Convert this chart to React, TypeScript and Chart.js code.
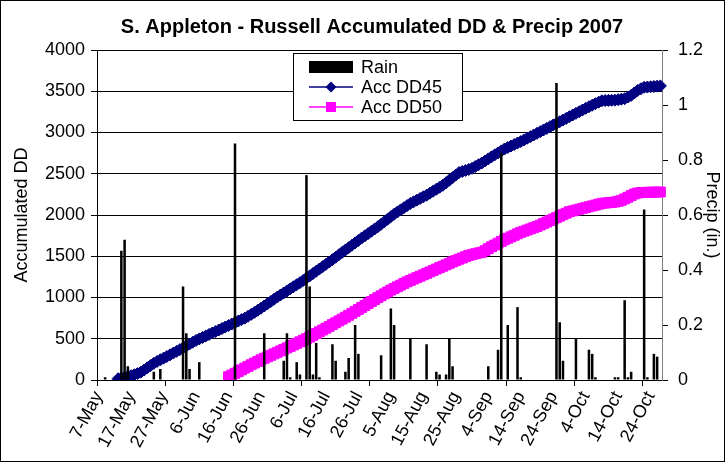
import { useEffect, useRef } from 'react';
import { Chart, registerables } from 'chart.js';

Chart.register(...registerables);

// ---------- data ----------
const START_YEAR = 2007;
const START_MONTH = 4; // May (0-based)
const START_DAY = 7;
const DAY_COUNT = 174; // 7-May .. 28-Oct
const MONTH_NAMES = ['Jan', 'Feb', 'Mar', 'Apr', 'May', 'Jun', 'Jul', 'Aug', 'Sep', 'Oct', 'Nov', 'Dec'];

const TICK_LABELS = ['7-May', '17-May', '27-May', '6-Jun', '16-Jun', '26-Jun', '6-Jul', '16-Jul', '26-Jul',
  '5-Aug', '15-Aug', '25-Aug', '4-Sep', '14-Sep', '24-Sep', '4-Oct', '14-Oct', '24-Oct'];
const LABEL_EVERY = 10;
const MAJOR_TICK_EVERY = 21;

// Accumulated DD45, first value on day index 6 (13-May)
const DD45_FIRST_INDEX = 6;
const ACC_DD45 = [
  15, 24, 33, 42, 53, 64, 78, 95, 120, 148,
  175, 202, 225, 245, 265, 285, 305, 326, 347, 368,
  390, 413, 436, 458, 480, 498, 516, 534, 552, 570,
  588, 606, 624, 642, 660, 678, 696, 714, 732, 750,
  772, 796, 820, 845, 870, 897, 924, 951, 978, 1005,
  1030, 1055, 1080, 1105, 1130, 1155, 1180, 1207, 1235, 1262,
  1290, 1318, 1346, 1374, 1402, 1430, 1459, 1488, 1518, 1547,
  1576, 1604, 1633, 1662, 1691, 1720, 1747, 1775, 1803, 1830,
  1858, 1888, 1918, 1949, 1980, 2010, 2036, 2062, 2088, 2114,
  2140, 2160, 2180, 2200, 2220, 2240, 2264, 2288, 2312, 2336,
  2360, 2391, 2422, 2453, 2484, 2515, 2528, 2540, 2552, 2566,
  2588, 2609, 2630, 2655, 2680, 2705, 2729, 2753, 2777, 2800,
  2818, 2836, 2854, 2872, 2890, 2910, 2930, 2950, 2970, 2990,
  3010, 3030, 3050, 3070, 3091, 3111, 3131, 3151, 3171, 3192,
  3212, 3232, 3252, 3272, 3293, 3312, 3331, 3350, 3368, 3385,
  3387, 3389, 3390, 3392, 3398, 3404, 3410, 3430, 3450, 3480,
  3510, 3530, 3548, 3551, 3554, 3558, 3562, 3565,
];

// Accumulated DD50, first value on day index 40 (16-Jun)
const DD50_FIRST_INDEX = 40;
const ACC_DD50 = [
  40, 60, 81, 102, 123, 145, 165, 185, 205, 225,
  245, 263, 281, 299, 317, 335, 353, 371, 389, 407,
  425, 444, 463, 482, 501, 520, 541, 563, 585, 606,
  628, 650, 672, 694, 716, 738, 761, 784, 808, 832,
  855, 879, 903, 927, 951, 975, 998, 1021, 1044, 1067,
  1090, 1110, 1130, 1150, 1170, 1190, 1207, 1224, 1241, 1258,
  1275, 1292, 1310, 1327, 1345, 1362, 1379, 1396, 1414, 1431,
  1448, 1464, 1479, 1495, 1510, 1520, 1530, 1540, 1548, 1568,
  1592, 1615, 1636, 1658, 1679, 1700, 1718, 1736, 1754, 1772,
  1790, 1804, 1818, 1832, 1846, 1860, 1878, 1896, 1914, 1932,
  1950, 1968, 1986, 2004, 2022, 2040, 2050, 2060, 2070, 2080,
  2090, 2100, 2110, 2120, 2131, 2141, 2145, 2149, 2153, 2157,
  2166, 2178, 2195, 2215, 2236, 2255, 2266, 2272, 2274, 2275,
  2276, 2277, 2278, 2279,
];

// Daily rain (in.), day index -> amount
const RAIN_DAY_INDEX = [2, 7, 8, 9, 17, 19, 26, 27, 28, 31, 42, 51, 57, 58, 59, 61, 62, 64, 65, 66, 67, 68,
  72, 73, 76, 77, 79, 80, 87, 90, 91, 96, 101, 104, 105, 107, 108, 109, 120, 123, 124, 126, 129, 130,
  141, 142, 143, 147, 151, 152, 153, 159, 160, 162, 163, 164, 168, 169, 171, 172];
const RAIN_INCHES = [0.01, 0.47, 0.51, 0.05, 0.03, 0.04, 0.34, 0.17, 0.04, 0.065, 0.86, 0.17, 0.07, 0.17, 0.01, 0.065, 0.02, 0.745, 0.34, 0.02, 0.135, 0.01,
  0.13, 0.07, 0.03, 0.08, 0.2, 0.095, 0.09, 0.26, 0.2, 0.15, 0.13, 0.03, 0.02, 0.02, 0.15, 0.05, 0.05, 0.11, 0.825, 0.2, 0.265, 0.01,
  1.08, 0.21, 0.07, 0.15, 0.11, 0.095, 0.01, 0.01, 0.01, 0.29, 0.01, 0.03, 0.62, 0.01, 0.095, 0.085];

const TITLE = 'S. Appleton - Russell Accumulated DD & Precip 2007';
const LEFT_TITLE = 'Accumulated DD';
const RIGHT_TITLE = 'Precip (in.)';
const SERIES_NAMES = ['Rain', 'Acc DD45', 'Acc DD50'];

const FONT_FAMILY = "'Liberation Sans', Arial, Helvetica, sans-serif";
const NAVY = '#000080';
const MAGENTA = '#FF00FF';

// ---------- derived tables ----------
const categories = Array.from({ length: DAY_COUNT }, (_, i) => {
  const d = new Date(START_YEAR, START_MONTH, START_DAY + i);
  return `${d.getDate()}-${MONTH_NAMES[d.getMonth()]}`;
});
const dd45Data = categories.map((_, i) => {
  const k = i - DD45_FIRST_INDEX;
  return k >= 0 && k < ACC_DD45.length ? ACC_DD45[k] : null;
});
const dd50Data = categories.map((_, i) => {
  const k = i - DD50_FIRST_INDEX;
  return k >= 0 && k < ACC_DD50.length ? ACC_DD50[k] : null;
});
const rainData: (number | null)[] = categories.map(() => null);
RAIN_DAY_INDEX.forEach((d, k) => { rainData[d] = RAIN_INCHES[k]; });

const decorPlugin = {
  id: 'decor',
  beforeDraw(chart: any) {
    const ctx = chart.ctx;
    ctx.save();
    ctx.fillStyle = '#fff';
    ctx.fillRect(0, 0, chart.width, chart.height);
    ctx.restore();
  },
  afterDraw(chart: any) {
    const ctx = chart.ctx;
    ctx.save();
    // title
    ctx.fillStyle = '#000';
    ctx.font = `bold 20px ${FONT_FAMILY}`;
    ctx.textAlign = 'center';
    ctx.textBaseline = 'alphabetic';
    ctx.fillText(TITLE, 372, 33);

    // legend box
    const bx = 293.5, by = 53.5, bw = 169, bh = 67;
    ctx.fillStyle = '#fff';
    ctx.fillRect(bx, by, bw, bh);
    ctx.strokeStyle = '#000';
    ctx.lineWidth = 1;
    ctx.strokeRect(bx, by, bw, bh);

    const sx0 = 309, sx1 = 353, mx = 331, tx = 361;
    const rows = [67, 87, 107];
    // Rain swatch
    ctx.fillStyle = '#000';
    ctx.fillRect(sx0, rows[0] - 6, sx1 - sx0, 12);
    // DD45
    ctx.strokeStyle = NAVY;
    ctx.lineWidth = 1.5;
    ctx.beginPath();
    ctx.moveTo(sx0, rows[1]);
    ctx.lineTo(sx1, rows[1]);
    ctx.stroke();
    ctx.fillStyle = NAVY;
    ctx.beginPath();
    ctx.moveTo(mx - 5.5, rows[1]);
    ctx.lineTo(mx, rows[1] - 5.5);
    ctx.lineTo(mx + 5.5, rows[1]);
    ctx.lineTo(mx, rows[1] + 5.5);
    ctx.closePath();
    ctx.fill();
    // DD50
    ctx.strokeStyle = MAGENTA;
    ctx.beginPath();
    ctx.moveTo(sx0, rows[2]);
    ctx.lineTo(sx1, rows[2]);
    ctx.stroke();
    ctx.fillStyle = MAGENTA;
    ctx.fillRect(mx - 5, rows[2] - 5, 10, 10);

    ctx.fillStyle = '#000';
    ctx.font = `18px ${FONT_FAMILY}`;
    ctx.textAlign = 'left';
    ctx.textBaseline = 'middle';
    SERIES_NAMES.forEach((name, i) => ctx.fillText(name, tx, rows[i] + 1));

    // outer frame
    ctx.strokeStyle = '#000';
    ctx.lineWidth = 1;
    ctx.strokeRect(0.5, 0.5, chart.width - 1, chart.height - 1);
    ctx.restore();
  },
};

export default function App() {
  const canvasRef = useRef<HTMLCanvasElement | null>(null);

  useEffect(() => {
    if (!canvasRef.current) return;
    const tickFont = { family: FONT_FAMILY, size: 18 };
    const chart = new Chart(canvasRef.current, {
      type: 'bar',
      data: {
        labels: categories,
        datasets: [
          {
            type: 'bar',
            label: SERIES_NAMES[0],
            data: rainData,
            yAxisID: 'y1',
            backgroundColor: '#000',
            borderWidth: 0,
            barPercentage: 0.78,
            categoryPercentage: 1,
            order: 0,
          } as any,
          {
            type: 'line',
            label: SERIES_NAMES[1],
            data: dd45Data,
            yAxisID: 'y',
            borderColor: NAVY,
            backgroundColor: NAVY,
            borderWidth: 1.5,
            pointStyle: 'rectRot',
            pointRadius: 6,
            pointBorderWidth: 1,
            pointBackgroundColor: NAVY,
            pointBorderColor: NAVY,
            fill: false,
            order: 2,
          },
          {
            type: 'line',
            label: SERIES_NAMES[2],
            data: dd50Data,
            yAxisID: 'y',
            borderColor: MAGENTA,
            backgroundColor: MAGENTA,
            borderWidth: 1.5,
            pointStyle: 'rect',
            pointRadius: 7,
            pointBorderWidth: 1,
            pointBackgroundColor: MAGENTA,
            pointBorderColor: MAGENTA,
            fill: false,
            order: 1,
          },
        ],
      },
      options: {
        responsive: false,
        animation: false,
        events: [],
        layout: { padding: { top: 50, left: 0, right: 0, bottom: 0 } },
        plugins: {
          legend: { display: false },
          tooltip: { enabled: false },
          title: { display: false },
        },
        scales: {
          x: {
            type: 'category',
            offset: true,
            grid: {
              display: true,
              drawOnChartArea: false,
              drawTicks: true,
              tickLength: 6,
              offset: true,
              color: (c: any) => (c.index % MAJOR_TICK_EVERY === 0 ? '#000' : 'rgba(0,0,0,0)'),
            },
            border: { display: true, color: '#000', width: 1 },
            ticks: {
              autoSkip: false,
              minRotation: 62,
              maxRotation: 62,
              padding: 2,
              color: '#000',
              font: tickFont,
              callback: (_v: any, index: number) =>
                index % LABEL_EVERY === 0 ? TICK_LABELS[index / LABEL_EVERY] ?? '' : '',
            },
            afterFit: (s: any) => { s.height = 82; },
          },
          y: {
            type: 'linear',
            position: 'left',
            min: 0,
            max: 4000,
            ticks: {
              stepSize: 500,
              padding: 6,
              color: '#000',
              font: tickFont,
              callback: (v: any) => String(v),
            },
            grid: { color: '#000', lineWidth: 1, tickLength: 6, drawTicks: true },
            border: { display: true, color: '#000', width: 1 },
            title: {
              display: true,
              text: LEFT_TITLE,
              color: '#000',
              font: tickFont,
              padding: { top: 11, bottom: 0 },
            },
            afterFit: (s: any) => { s.width = 97; },
          },
          y1: {
            type: 'linear',
            position: 'right',
            min: 0,
            max: 1.2,
            ticks: {
              stepSize: 0.2,
              padding: 10,
              color: '#000',
              font: tickFont,
              callback: (v: any) => String(Math.round(Number(v) * 10) / 10),
            },
            grid: { drawOnChartArea: false, color: '#000', tickLength: 6, drawTicks: true },
            border: { display: true, color: '#808080', width: 1 },
            title: {
              display: true,
              text: RIGHT_TITLE,
              color: '#000',
              font: tickFont,
              padding: { top: 2, bottom: 0 },
            },
            afterFit: (s: any) => { s.width = 63; },
          },
        },
      } as any,
      plugins: [decorPlugin],
    });
    return () => chart.destroy();
  }, []);

  return (
    <div style={{ position: 'fixed', left: 0, top: 0, width: 725, height: 462, background: '#fff' }}>
      <canvas ref={canvasRef} width={725} height={462} style={{ display: 'block', width: 725, height: 462 }} />
    </div>
  );
}
